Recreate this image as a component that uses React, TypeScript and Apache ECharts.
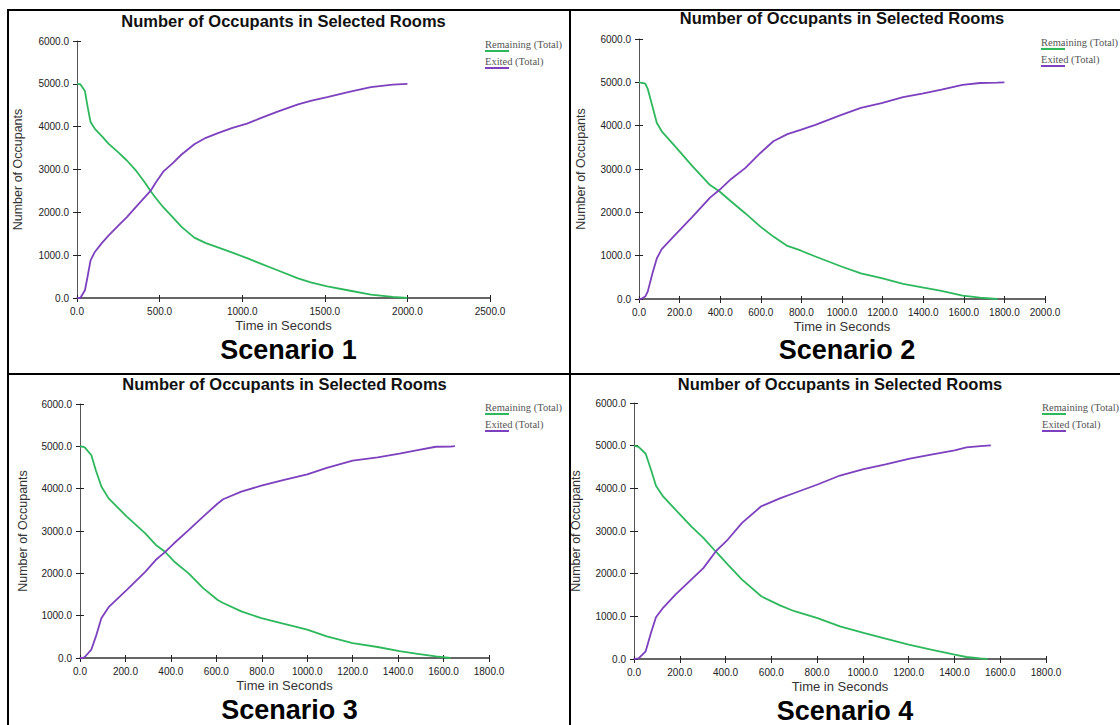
import React, { useEffect, useRef } from "react";
import * as echarts from "echarts";

// ---------- texts ----------
const TITLE = "Number of Occupants in Selected Rooms";
const X_NAME = "Time in Seconds";
const Y_NAME = "Number of Occupants";
const LEGEND_NAMES = ["Remaining (Total)", "Exited (Total)"];
const SCENARIO_LABELS = ["Scenario 1", "Scenario 2", "Scenario 3", "Scenario 4"];

// ---------- axes ----------
const X_MAX = [2500, 2000, 1800, 1800];
const X_INTERVAL = [500, 200, 200, 200];
const Y_MIN = 0;
const Y_MAX = 6000;
const Y_INTERVAL = 1000;

// ---------- data (time in seconds, occupants) ----------
const s1Time = [0, 20, 48, 65, 82, 108, 150, 192, 250, 302, 360, 412, 445, 478, 522, 580, 633, 710, 780, 853, 941, 1029, 1100, 1206, 1338, 1420, 1515, 1647, 1779, 1911, 2000];
const s1Remaining = [5000, 4990, 4830, 4450, 4110, 3950, 3780, 3600, 3400, 3210, 2960, 2690, 2500, 2330, 2120, 1880, 1660, 1410, 1280, 1180, 1060, 930, 820, 660, 460, 360, 270, 175, 80, 25, 0];
const s1Exited = [0, 0, 180, 520, 880, 1075, 1280, 1460, 1690, 1890, 2140, 2360, 2500, 2700, 2950, 3150, 3350, 3590, 3740, 3850, 3970, 4070, 4180, 4340, 4520, 4610, 4690, 4810, 4925, 4980, 5000];

const s2Time = [0, 14, 31, 43, 66, 88, 112, 178, 264, 350, 397, 454, 523, 598, 662, 731, 796, 869, 997, 1093, 1195, 1301, 1395, 1490, 1594, 1680, 1765, 1800];
const s2Remaining = [5000, 4990, 4970, 4850, 4450, 4060, 3870, 3520, 3060, 2630, 2480, 2250, 1980, 1670, 1440, 1225, 1120, 980, 750, 590, 480, 350, 270, 185, 77, 30, 0, null];
const s2Exited = [0, 10, 60, 170, 590, 940, 1150, 1480, 1900, 2340, 2520, 2770, 3020, 3370, 3640, 3805, 3905, 4020, 4250, 4410, 4520, 4660, 4740, 4830, 4940, 4985, 4995, 5000];

const s3Time = [0, 14, 22, 50, 70, 94, 126, 206, 286, 334, 374, 414, 478, 542, 606, 630, 710, 798, 894, 1000, 1086, 1200, 1310, 1406, 1486, 1566, 1630, 1650];
const s3Remaining = [5000, 4990, 4970, 4790, 4430, 4050, 3770, 3340, 2950, 2670, 2510, 2280, 2000, 1650, 1370, 1300, 1100, 940, 810, 670, 510, 350, 260, 160, 100, 40, 0, null];
const s3Exited = [0, 0, 30, 200, 510, 940, 1200, 1610, 2030, 2320, 2500, 2710, 3020, 3340, 3650, 3750, 3930, 4070, 4200, 4340, 4490, 4660, 4740, 4830, 4910, 4990, 4995, 5005];

const s4Time = [0, 20, 51, 74, 96, 127, 181, 250, 303, 357, 410, 472, 556, 640, 701, 802, 900, 1003, 1099, 1200, 1298, 1401, 1452, 1513, 1544, 1559];
const s4Remaining = [5000, 4970, 4810, 4440, 4060, 3810, 3500, 3110, 2840, 2520, 2210, 1860, 1470, 1250, 1120, 960, 765, 610, 475, 335, 220, 100, 47, 15, 0, null];
const s4Exited = [0, 15, 180, 610, 980, 1200, 1510, 1860, 2130, 2520, 2800, 3190, 3580, 3770, 3890, 4090, 4300, 4450, 4560, 4690, 4790, 4890, 4960, 4990, 5000, 5005];

const SCENARIOS = [
  { time: s1Time, remaining: s1Remaining, exited: s1Exited },
  { time: s2Time, remaining: s2Remaining, exited: s2Exited },
  { time: s3Time, remaining: s3Remaining, exited: s3Exited },
  { time: s4Time, remaining: s4Remaining, exited: s4Exited },
];

// ---------- layout / style ----------
const GREEN = "#2eb85c";
const PURPLE = "#7d40be";
const SANS = '"Liberation Sans", Arial, Helvetica, sans-serif';
const SERIF = '"Liberation Serif", "DejaVu Serif", serif';

const LAYOUT = [
  { left: 77, top: 41, width: 413, height: 257, titleY: 21, scenY: 349, legX: 485, legY: 44, yGap: 53 },
  { left: 639, top: 39, width: 406, height: 260, titleY: 18, scenY: 349, legX: 1041, legY: 42, yGap: 52 },
  { left: 80, top: 404, width: 409, height: 254, titleY: 384, scenY: 709, legX: 485, legY: 407, yGap: 51 },
  { left: 634, top: 403, width: 412, height: 256, titleY: 384, scenY: 710, legX: 1042, legY: 407, yGap: 52 },
];

function txt(text: string, x: number, y: number, size: number, weight: string, family: string, fill: string, align = "center") {
  return {
    type: "text",
    z: 10,
    style: {
      text,
      x,
      y,
      fontSize: size,
      fontWeight: weight,
      fontFamily: family,
      fill,
      align,
      verticalAlign: "middle",
      textAlign: align,
      textVerticalAlign: "middle",
    },
  };
}

function buildOption() {
  const grid: any[] = [];
  const xAxis: any[] = [];
  const yAxis: any[] = [];
  const series: any[] = [];
  const graphic: any[] = [];

  // frame borders
  const border = (x1: number, y1: number, x2: number, y2: number) => ({
    type: "line",
    z: 20,
    shape: { x1, y1, x2, y2 },
    style: { stroke: "#000", lineWidth: 2 },
  });
  graphic.push(border(8, 10, 8, 725));
  graphic.push(border(7, 10, 1120, 10));
  graphic.push(border(570, 10, 570, 725));
  graphic.push(border(8, 374, 1120, 374));

  LAYOUT.forEach((L, i) => {
    const sc = SCENARIOS[i];
    grid.push({ left: L.left, top: L.top, width: L.width, height: L.height, containLabel: false });

    const fmt = (v: number) => v.toFixed(1);
    xAxis.push({
      type: "value",
      gridIndex: i,
      min: 0,
      max: X_MAX[i],
      interval: X_INTERVAL[i],
      position: "bottom",
      name: X_NAME,
      nameLocation: "middle",
      nameGap: 21,
      nameTextStyle: { fontSize: 13, color: "#333", fontFamily: SANS },
      axisLine: { show: true, onZero: false, lineStyle: { color: "#333", width: 1.5 } },
      axisTick: { show: true, length: 4, lineStyle: { color: "#222", width: 1 } },
      axisLabel: { formatter: fmt, fontSize: 10, color: "#222", margin: 8, fontFamily: SANS },
      splitLine: { show: false },
    });
    xAxis.push({
      type: "value",
      gridIndex: i,
      min: 0,
      max: X_MAX[i],
      interval: X_INTERVAL[i],
      position: "bottom",
      axisLine: { show: false },
      axisTick: { show: true, inside: true, length: 3, lineStyle: { color: "#222", width: 1 } },
      axisLabel: { show: false },
      splitLine: { show: false },
    });
    yAxis.push({
      type: "value",
      gridIndex: i,
      min: Y_MIN,
      max: Y_MAX,
      interval: Y_INTERVAL,
      position: "left",
      name: Y_NAME,
      nameLocation: "middle",
      nameRotate: 90,
      nameGap: L.yGap,
      nameTextStyle: { fontSize: 12.5, color: "#333", fontFamily: SANS },
      axisLine: { show: true, onZero: false, lineStyle: { color: "#555", width: 1 } },
      axisTick: { show: true, length: 4, lineStyle: { color: "#222", width: 1 } },
      axisLabel: { formatter: fmt, fontSize: 10, color: "#222", margin: 8, fontFamily: SANS },
      splitLine: { show: false },
    });
    yAxis.push({
      type: "value",
      gridIndex: i,
      min: Y_MIN,
      max: Y_MAX,
      interval: Y_INTERVAL,
      position: "left",
      axisLine: { show: false },
      axisTick: { show: true, inside: true, length: 4, lineStyle: { color: "#222", width: 1 } },
      axisLabel: { show: false },
      splitLine: { show: false },
    });

    const mk = (vals: (number | null)[]) => sc.time.map((t, k) => [t, vals[k]]);
    series.push({
      type: "line",
      name: LEGEND_NAMES[0],
      xAxisIndex: 2 * i,
      yAxisIndex: 2 * i,
      data: mk(sc.remaining),
      showSymbol: false,
      symbol: "none",
      lineStyle: { color: GREEN, width: 1.8 },
      itemStyle: { color: GREEN },
    });
    series.push({
      type: "line",
      name: LEGEND_NAMES[1],
      xAxisIndex: 2 * i,
      yAxisIndex: 2 * i,
      data: mk(sc.exited),
      showSymbol: false,
      symbol: "none",
      lineStyle: { color: PURPLE, width: 1.8 },
      itemStyle: { color: PURPLE },
    });

    const cx = L.left + L.width / 2;
    graphic.push(txt(TITLE, cx, L.titleY, 16.5, "bold", SANS, "#111"));
    graphic.push(txt(SCENARIO_LABELS[i], cx + 5, L.scenY + 1, 27, "bold", SANS, "#000"));

    // legend
    [GREEN, PURPLE].forEach((c, k) => {
      const y = L.legY + k * 17;
      graphic.push(txt(LEGEND_NAMES[k], L.legX, y, 10.5, "normal", SERIF, "#555", "left"));
      graphic.push({
        type: "line",
        z: 10,
        shape: { x1: L.legX, y1: y + 7, x2: L.legX + 24, y2: y + 7 },
        style: { stroke: c, lineWidth: 2 },
      });
    });
  });

  return {
    animation: false,
    backgroundColor: "#fff",
    grid,
    xAxis,
    yAxis,
    series,
    graphic,
  };
}

export default function App() {
  const ref = useRef<HTMLDivElement>(null);
  useEffect(() => {
    if (!ref.current) return;
    const chart = echarts.init(ref.current, undefined, { renderer: "svg" });
    chart.setOption(buildOption() as any);
    return () => chart.dispose();
  }, []);
  return (
    <div
      ref={ref}
      style={{ position: "absolute", left: 0, top: 0, width: 1120, height: 725, background: "#fff" }}
    />
  );
}
